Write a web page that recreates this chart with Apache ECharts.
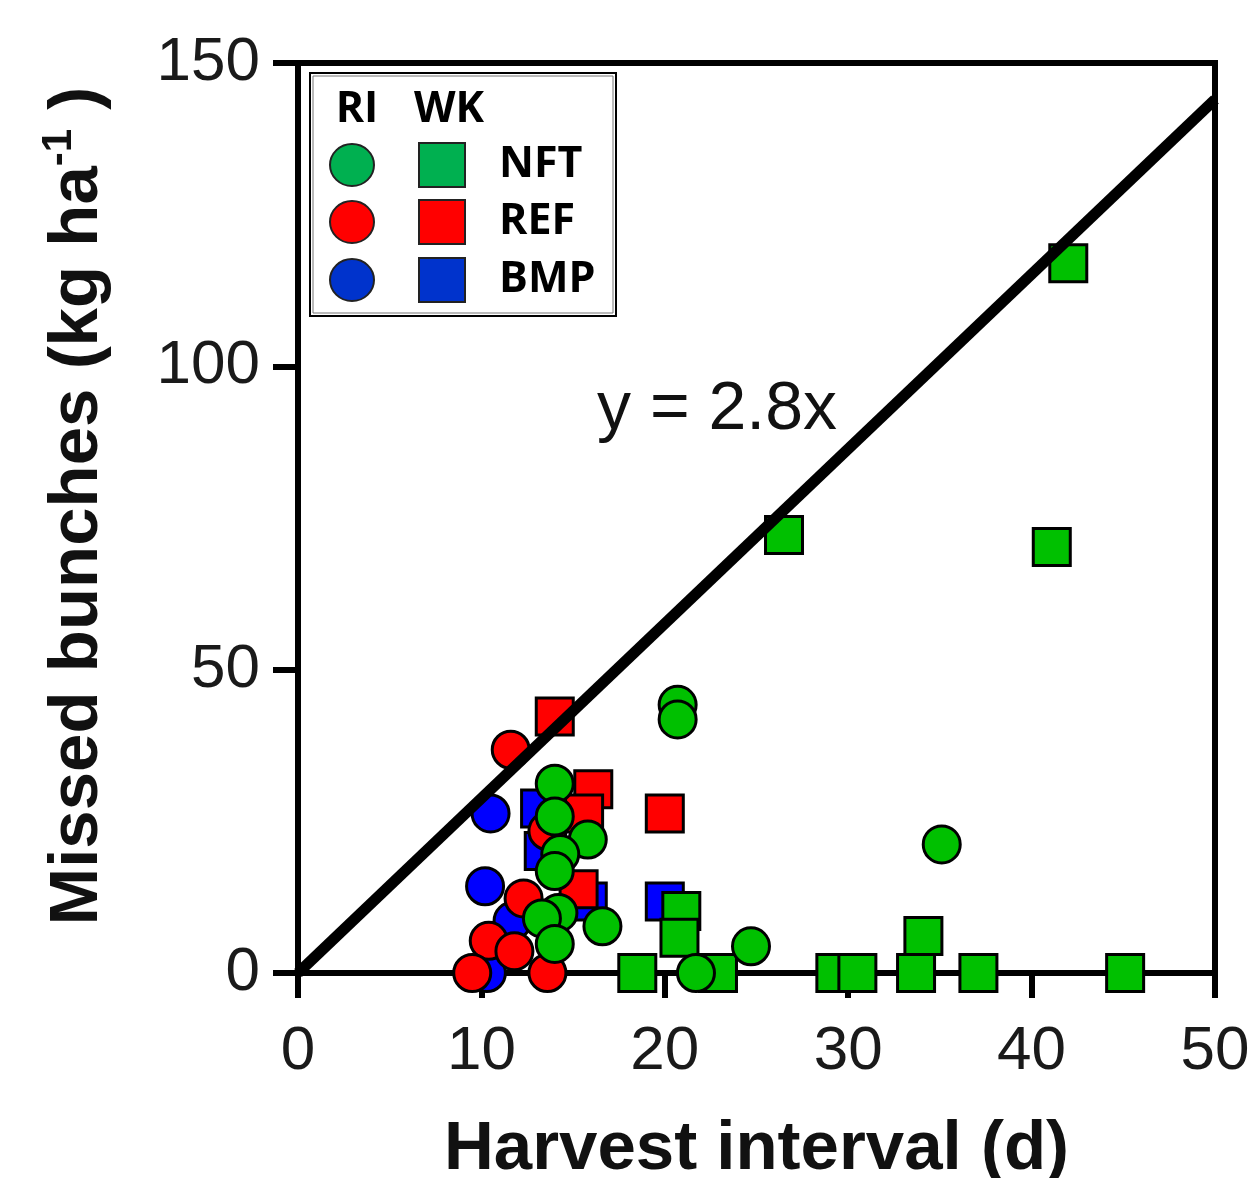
<!DOCTYPE html>
<html>
<head>
<meta charset="utf-8">
<title>Missed bunches vs harvest interval</title>
<script src="https://cdn.jsdelivr.net/npm/echarts@6.0.0/dist/echarts.min.js"></script>
<style>
  html, body { margin: 0; padding: 0; background: #fff; }
  #chart { width: 1250px; height: 1178px; }
</style>
</head>
<body>
<div id="chart"></div>
<script>
// [harvest interval (d), missed bunches (kg/ha)]
// RI = circles, WK = squares
const riNFT = [[20.7, 44.2], [20.7, 41.8], [14.0, 31.2], [14.0, 25.8], [15.8, 22.0], [14.3, 19.6],
  [14.0, 16.8], [14.2, 9.9], [13.3, 9.0], [16.6, 7.7], [14.0, 4.8], [21.7, 0], [24.7, 4.4], [35.1, 21.2]]
const riREF = [[11.6, 36.8], [13.6, 23.4], [12.3, 12.3], [10.4, 5.3], [11.8, 3.6], [9.5, 0], [13.6, 0]]
const riBMP = [[10.5, 26.3], [10.2, 14.3], [11.7, 8.6], [10.3, 0]]
const wkNFT = [[42.0, 117.0], [26.5, 72.2], [41.1, 70.2], [20.9, 10.2], [20.8, 5.8], [18.5, 0], [22.9, 0],
  [29.3, 0], [30.5, 0], [33.7, 0], [34.1, 6.1], [37.1, 0], [45.1, 0]]
const wkREF = [[14.0, 42.3], [16.1, 30.3], [15.6, 26.3], [15.3, 13.8], [20.0, 26.3]]
const wkBMP = [[13.2, 27.1], [13.4, 20.1], [15.8, 11.8], [20.0, 11.8]]
const fitLine = [[0, 0], [50, 144]]

const xTicks = [0, 10, 20, 30, 40, 50]
const yTicks = [0, 50, 100, 150]

const green = '#00c000'
const red = '#ff0000'
const blue = '#0000ff'
const font = 'Liberation Sans, Arial, sans-serif'
const legendFont = 'Open Sans, Liberation Sans, sans-serif'

function pointSeries(name, data, symbol, color) {
    return {
        name,
        type: 'scatter',
        data,
        symbol,
        symbolSize: 37,
        itemStyle: { color, borderColor: '#000', borderWidth: 3, opacity: 1 },
        emphasis: { disabled: true },
        z: 2
    }
}

const chart = echarts.init(document.getElementById('chart'))

// legend block drawn by hand (two symbol columns share one label)
const legendRows = [
    { label: 'NFT', circle: '#00b050', square: '#00b050', y: 165 },
    { label: 'REF', circle: '#ff0000', square: '#ff0000', y: 222 },
    { label: 'BMP', circle: '#0033cc', square: '#0033cc', y: 280 }
]
const legendGraphics = [
    { type: 'rect', shape: { x: 310, y: 73, width: 306, height: 243 },
      style: { fill: '#fff', stroke: '#000', lineWidth: 2 }, z: 10 },
    { type: 'rect', shape: { x: 313, y: 76, width: 300, height: 237 },
      style: { fill: 'none', stroke: '#777', lineWidth: 1 }, z: 10 },
    { type: 'text', x: 357, y: 110, z: 11,
      style: { text: 'RI', font: 'bold 43px ' + legendFont, fill: '#000', align: 'center', verticalAlign: 'middle' } },
    { type: 'text', x: 449, y: 110, z: 11,
      style: { text: 'WK', font: 'bold 43px ' + legendFont, fill: '#000', align: 'center', verticalAlign: 'middle' } }
]
legendRows.forEach(r => {
    legendGraphics.push(
        { type: 'ellipse', shape: { cx: 352, cy: r.y, rx: 22, ry: 21 },
          style: { fill: r.circle, stroke: '#222', lineWidth: 2 }, z: 11 },
        { type: 'rect', shape: { x: 419, y: r.y - 22, width: 46, height: 44 },
          style: { fill: r.square, stroke: '#222', lineWidth: 2 }, z: 11 },
        { type: 'text', x: 499, y: r.y, z: 11,
          style: { text: r.label, font: 'bold 43px ' + legendFont, fill: '#000', align: 'left', verticalAlign: 'middle' } }
    )
})

chart.setOption({
    animation: false,
    grid: {
        left: 298, right: 35, top: 63, bottom: 205,
        containLabel: false,
        outerBoundsMode: 'none',
        show: true,
        borderColor: '#000',
        borderWidth: 6
    },
    xAxis: {
        type: 'value',
        min: xTicks[0],
        max: xTicks[xTicks.length - 1],
        interval: 10,
        name: 'Harvest interval (d)',
        nameLocation: 'middle',
        nameGap: 142,
        nameTextStyle: { fontFamily: font, fontSize: 69, fontWeight: 'bold', color: '#111' },
        axisLine: { show: true, lineStyle: { color: '#000', width: 6 } },
        axisTick: { show: true, inside: false, length: 25, lineStyle: { color: '#000', width: 6 } },
        axisLabel: { fontFamily: font, fontSize: 62, color: '#1a1a1a', margin: 48 },
        splitLine: { show: false }
    },
    yAxis: {
        type: 'value',
        min: yTicks[0],
        max: yTicks[yTicks.length - 1],
        interval: 50,
        name: '{a|Missed bunches (kg ha}{s|-1}{a| )}',
        nameLocation: 'middle',
        nameRotate: 90,
        nameGap: 180,
        nameTextStyle: {
            fontFamily: font, fontSize: 69, fontWeight: 'bold', color: '#111',
            padding: [0, 0, 0, 24],
            rich: {
                a: { fontFamily: font, fontSize: 69, fontWeight: 'bold', color: '#111', lineHeight: 80 },
                s: { fontFamily: font, fontSize: 42, fontWeight: 'bold', color: '#111', verticalAlign: 'top', lineHeight: 42 }
            }
        },
        axisLine: { show: true, lineStyle: { color: '#000', width: 6 } },
        axisTick: { show: true, inside: false, length: 25, lineStyle: { color: '#000', width: 6 } },
        axisLabel: { fontFamily: font, fontSize: 62, color: '#1a1a1a', margin: 38 },
        splitLine: { show: false }
    },
    graphic: legendGraphics.concat([
        { type: 'text', x: 597, y: 410, z: 11,
          style: { text: 'y = 2.8x', font: '68px ' + font, fill: '#111', align: 'left', verticalAlign: 'middle' } }
    ]),
    series: [
        pointSeries('WK BMP', wkBMP, 'rect', blue),
        pointSeries('RI BMP', riBMP, 'circle', blue),
        pointSeries('WK REF', wkREF, 'rect', red),
        pointSeries('RI REF', riREF, 'circle', red),
        pointSeries('WK NFT', wkNFT, 'rect', green),
        pointSeries('RI NFT', riNFT, 'circle', green),
        {
            name: 'fit',
            type: 'line',
            data: fitLine,
            symbol: 'none',
            clip: false,
            lineStyle: { color: '#000', width: 11 },
            emphasis: { disabled: true },
            z: 5
        }
    ]
})
</script>
</body>
</html>
